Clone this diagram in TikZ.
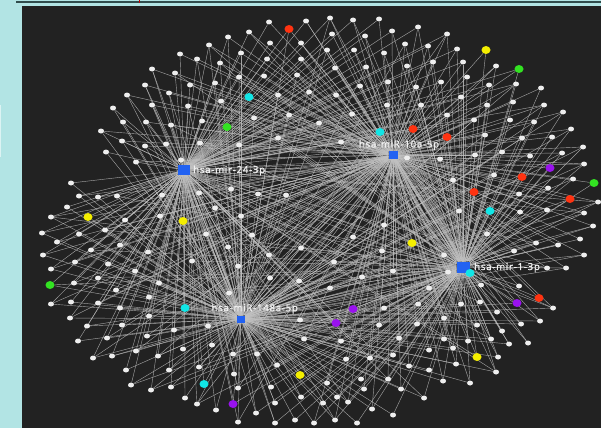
\documentclass[tikz,border=0pt]{standalone}
\usepackage{fontspec}
\newfontfamily\lblfont[LetterSpace=8,FakeBold=1.3]{Open Sans}
\usetikzlibrary{shapes.geometric}
\pgfdeclarelayer{bgl}\pgfdeclarelayer{edgel}\pgfsetlayers{bgl,edgel,main}
\definecolor{cyanbg}{HTML}{B2E4E4}
\definecolor{darkbg}{HTML}{222222}
\definecolor{topline}{HTML}{304C4C}
\definecolor{hubblue}{HTML}{2262F2}
\definecolor{cwhite}{HTML}{EEEEEE}
\definecolor{cred}{HTML}{FF3311}
\definecolor{cyel}{HTML}{F4EE00}
\definecolor{cgreen}{HTML}{33E322}
\definecolor{ccyan}{HTML}{11E6E6}
\definecolor{cpurp}{HTML}{9912EE}
\definecolor{cedge}{HTML}{C2C2C2}
\definecolor{clbl}{HTML}{F0F0F0}
\def\nodelist{269/22/wn, 289/29/rn, 306/21/wn, 249/32/wn, 301/43/wn, 228/37/wn, 270/43/wn, 209/45/wn, 241/53/wn, 180/54/wn, 197/59/wn, 220/63/wn, 267/59/wn, 301/59/wn, 152/69/wn, 175/73/wn, 215/83/wn, 239/77/wn, 264/76/wn, 297/75/wn, 145/85/wn, 190/85/wn, 169/93/wn, 278/95/wn, 249/97/cn, 309/92/wn, 127/95/wn, 221/101/wn, 152/105/wn, 188/106/wn, 113/108/wn, 254/118/wn, 289/115/wn, 123/122/wn, 146/122/wn, 171/125/wn, 202/121/wn, 227/127/gn, 101/131/wn, 278/138/wn, 122/141/wn, 145/146/wn, 166/144/wn, 200/143/wn, 239/145/wn, 106/152/wn, 136/162/wn, 181/160/wn,
71/183/wn, 79/196/wn, 98/197/wn, 117/196/wn, 162/195/wn, 199/193/wn, 231/189/wn, 258/194/wn, 286/195/wn,
67/207/wn, 88/217/yn, 51/217/wn, 125/220/wn, 160/216/wn, 183/221/yn, 215/208/wn, 241/216/wn,
42/233/wn, 79/234/wn, 105/230/wn, 206/234/wn, 252/235/wn,
57/242/wn, 91/250/wn, 120/245/wn, 148/252/wn, 228/247/wn, 301/248/wn,
43/255/wn, 75/262/wn, 108/264/wn, 192/261/wn, 269/255/wn, 238/266/wn,
51/269/wn, 98/278/wn, 135/271/wn, 270/278/wn, 299/281/wn,
50/285/gn, 74/283/wn, 116/290/wn, 159/283/wn, 229/293/wn,
51/304/wn, 71/302/wn, 98/303/wn, 149/297/wn, 120/308/wn, 185/308/cn,
70/318/wn, 87/326/wn, 122/325/wn, 149/316/wn, 174/330/wn, 208/326/wn, 300/320/wn,
78/341/wn, 107/338/wn, 147/336/wn, 212/345/wn, 304/339/wn,
93/358/wn, 112/356/wn, 136/351/wn, 158/356/wn, 183/349/wn, 233/354/wn, 257/354/wn,
126/370/wn, 169/370/wn, 199/367/wn, 234/374/wn, 277/365/wn, 300/375/yn,
131/385/wn, 151/390/wn, 171/387/wn, 204/384/cn, 238/388/wn, 271/387/wn,
185/398/wn, 233/404/pn, 197/404/wn, 216/410/wn, 275/403/wn, 301/397/wn,
238/422/wn, 256/413/wn, 275/423/wn, 295/420/wn,
330/18/wn, 353/20/wn, 379/19/wn, 418/27/wn, 447/34/wn,
332/34/wn, 365/36/wn, 392/31/wn, 405/44/wn, 428/46/wn, 457/49/wn, 486/50/yn,
327/50/wn, 354/50/wn, 384/53/wn,
335/68/wn, 366/67/wn, 407/66/wn, 433/62/wn, 463/62/wn, 496/66/wn, 519/69/gn,
360/86/wn, 388/82/wn, 416/87/wn, 441/82/wn, 467/77/wn, 489/85/wn, 516/84/wn, 541/88/wn,
336/95/wn, 387/105/wn, 421/105/wn, 461/97/wn, 487/105/wn, 513/102/wn, 544/105/wn, 563/112/wn,
352/114/wn, 447/115/wn, 474/120/wn, 510/120/wn, 534/122/wn, 571/129/wn,
319/123/wn, 380/132/cn, 413/129/rn, 447/137/rn, 485/135/wn, 522/138/wn, 552/137/wn,
341/142/wn, 407/158/wn, 440/159/wn, 475/155/wn, 502/152/wn, 530/156/wn, 562/153/wn, 583/147/wn,
453/180/wn, 494/175/wn, 522/177/rn, 550/168/pn, 573/179/wn, 584/164/wn,
474/192/rn, 459/211/wn, 490/211/cn, 519/194/wn, 548/188/wn, 570/199/rn, 594/183/gn, 598/202/wn,
487/234/wn, 520/212/wn, 547/210/wn, 584/213/wn, 384/225/wn, 593/226/wn,
353/237/wn, 412/243/yn, 382/251/wn, 444/255/wn, 514/251/wn, 536/243/wn, 558/245/wn, 580/239/wn, 584/255/wn,
334/262/wn, 393/271/wn, 448/272/wn, 470/273/cn, 547/268/wn, 566/268/wn,
362/277/wn, 330/288/wn, 429/288/wn, 481/285/wn, 519/286/wn,
353/309/pn, 336/323/pn, 384/308/wn, 418/304/wn, 461/304/wn, 480/302/wn, 497/312/wn, 517/303/pn, 539/298/rn, 553/308/wn,
379/325/wn, 417/324/wn, 444/318/wn, 477/325/wn, 502/331/wn, 521/324/wn, 540/321/wn,
341/341/wn, 399/338/wn, 444/339/wn, 468/341/wn, 491/339/wn, 509/344/wn, 528/343/wn,
346/359/wn, 370/358/wn, 393/355/wn, 429/350/wn, 453/348/wn, 477/357/yn, 498/357/wn,
327/383/wn, 361/379/wn, 388/379/wn, 409/366/wn, 429/370/wn, 456/364/wn, 496/372/wn,
337/397/wn, 364/389/wn, 401/389/wn, 424/398/wn, 443/381/wn, 470/383/wn,
323/403/wn, 348/402/wn, 372/409/wn, 393/415/wn,
314/423/wn, 335/420/wn, 357/423/wn}
\begin{document}
\begin{tikzpicture}[x=1pt,y=-1pt,
  dot/.style={ellipse, inner sep=0pt, draw=none},
  wn/.style={dot, fill=cwhite, minimum width=6pt, minimum height=5pt},
  cdot/.style={dot, minimum width=9pt, minimum height=8pt},
  rn/.style={cdot, fill=cred},
  yn/.style={cdot, fill=cyel},
  gn/.style={cdot, fill=cgreen},
  cn/.style={cdot, fill=ccyan},
  pn/.style={cdot, fill=cpurp},
  hub/.style={rectangle, fill=hubblue, inner sep=0pt, draw=none},
  lbl/.style={inner sep=0pt, text=clbl, font=\lblfont\fontsize{9.6}{11}\selectfont},
  edge/.style={draw=cedge, line width=0.42pt, opacity=0.8}]
\useasboundingbox (0,0) rectangle (601,428);
\begin{pgfonlayer}{bgl}
\fill[cyanbg] (0,0) rectangle (601,428);
\fill[darkbg] (22,6) rectangle (601,428);
\fill[topline] (16,0.6) rectangle (601,2.7);
\fill[white!55!cyanbg] (0,105) rectangle (1.3,157);
\fill[red!75!black] (139,0) rectangle (140.2,2.7);
\end{pgfonlayer}
% hubs
\node[hub, minimum width=12pt, minimum height=10pt] (h24) at (184,170) {};
\node[hub, minimum width=9pt, minimum height=8pt] (h10) at (393,155) {};
\node[hub, minimum width=13pt, minimum height=11pt] (h1) at (463,267) {};
\node[hub, minimum width=8pt, minimum height=7pt] (h148) at (241,319) {};
% peripheral nodes
\foreach \x/\y/\s [count=\i] in \nodelist {
  \node[\s] (n\i) at (\x,\y) {};
}
% edges
\begin{pgfonlayer}{edgel}
\foreach \x/\y/\s [count=\i] in \nodelist {
  \pgfmathsetmacro\da{veclen(\x-184,\y-170)}
  \pgfmathsetmacro\db{veclen(\x-393,\y-155)}
  \pgfmathsetmacro\dc{veclen(\x-463,\y-267)}
  \pgfmathsetmacro\dd{veclen(\x-241,\y-319)}
  \foreach \h/\dk in {h24/\da, h10/\db, h1/\dc, h148/\dd} {
    \pgfmathtruncatemacro\rk{(\da<\dk)+(\db<\dk)+(\dc<\dk)+(\dd<\dk)}
    \pgfmathtruncatemacro\ok{or(\rk<2, or(and(\rk==2, mod(\i,3)!=1), and(\rk==3, mod(\i,4)==0)))}
    \ifnum\ok=1 \draw[edge] (n\i) -- (\h); \fi
  }
}
\end{pgfonlayer}
% labels
\node[lbl, anchor=west] (l24) at (193,170.5) {hsa-mir-24-3p};
\node[lbl] (l10) at (399,145) {hsa-miR-10a-5p};
\node[lbl, anchor=west] (l1) at (474,267.5) {hsa-mir-1-3p};
\node[lbl] (l148) at (254.7,308.7) {hsa-miR-148a-5p};
\end{tikzpicture}
\end{document}
